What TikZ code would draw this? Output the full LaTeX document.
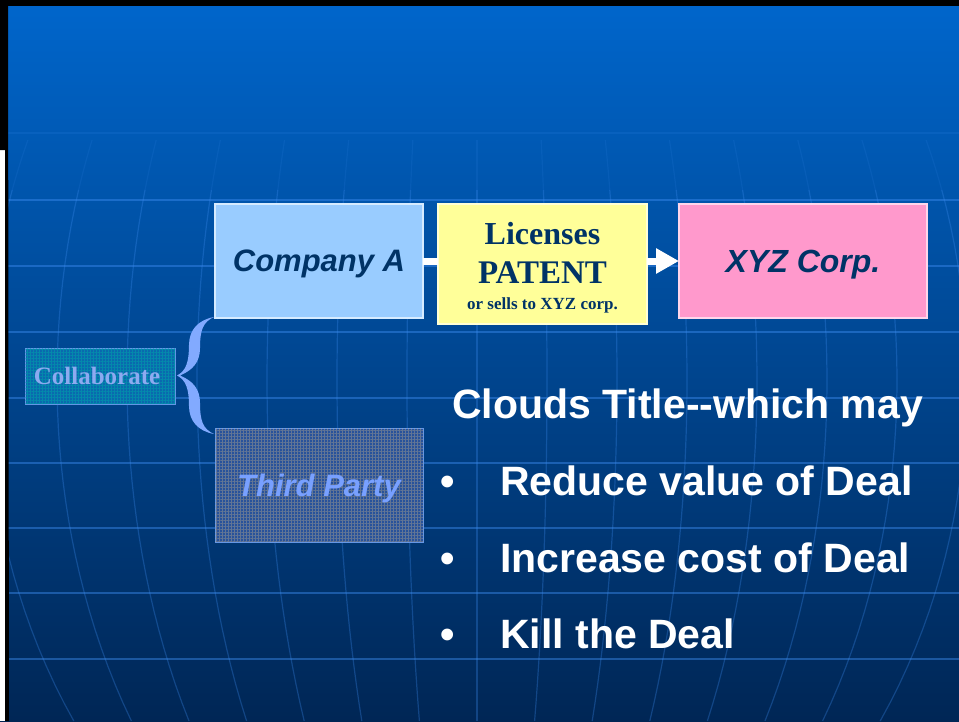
\documentclass[tikz,border=0pt]{standalone}
\usepackage{fontspec}
\setmainfont{Liberation Serif}
\newfontfamily\arial{Liberation Sans}
\usetikzlibrary{arrows.meta,patterns.meta}
\definecolor{navy}{RGB}{0,51,102}
\definecolor{bgtop}{RGB}{0,102,204}
\definecolor{bgmid}{RGB}{0,75,155}
\definecolor{bgbot}{RGB}{0,38,85}
\definecolor{gridc}{RGB}{60,140,240}
\definecolor{compblue}{RGB}{153,204,255}
\definecolor{licyellow}{RGB}{255,255,153}
\definecolor{xyzpink}{RGB}{255,153,204}
\definecolor{bracec}{RGB}{130,170,255}
\definecolor{collabtxt}{RGB}{140,170,240}
\definecolor{thirdtxt}{RGB}{120,160,255}
\definecolor{collabbase}{RGB}{10,105,175}
\definecolor{collabline}{RGB}{0,165,170}
\definecolor{thirdbase}{RGB}{40,82,155}
\definecolor{thirdline}{RGB}{185,170,140}
\definecolor{texborder}{RGB}{100,150,230}
\tikzset{
  blk/.style={rectangle, inner sep=0pt, outer sep=0pt, line width=1.2pt, text depth=0pt},
  sansbi/.style={font=\arial\bfseries\itshape\fontsize{#1}{#1}\selectfont},
  seriftxt/.style={anchor=base, inner sep=0pt, text=navy, font=\bfseries\fontsize{#1}{#1}\selectfont},
  bigtxt/.style={anchor=base west, inner sep=0pt, text=white, font=\arial\bfseries\fontsize{41}{41}\selectfont},
  hline/.style={gridc, line width=1.5pt, opacity=0.45},
  merid/.style={gridc, line width=1.2pt, opacity=0.3},
  link/.style={white, line width=7pt},
}
\begin{document}
\begin{tikzpicture}[x=1pt,y=-1pt]
\useasboundingbox (0,0) rectangle (959,721);
% background
\shade[top color=bgtop, middle color=bgmid, bottom color=bgbot] (0,0) rectangle (959,721);
% globe grid
\draw[hline, opacity=0.15] (0,133) -- (959,133);
\foreach \yy in {200,266,332,398,463,528,593,659}
  \draw[hline] (0,\yy) -- (959,\yy);
\foreach \k in {-7,...,7} {
  \draw[merid, opacity=0.12] plot[domain=140:190, samples=6, variable=\t] ({477+70*\k*sqrt(1-((\t-380)/600)^2)}, \t);
  \draw[merid] plot[domain=190:721, samples=30, variable=\t] ({477+70*\k*sqrt(1-((\t-380)/600)^2)}, \t);
}
% slide edge
\fill[white] (0,150) rectangle (5,721);
\fill[black] (0,0) rectangle (959,6);
\fill[black] (0,0) -- (8,0) -- (9,721) -- (5,721) -- (5,150) -- (0,150) -- cycle;

% boxes
\node[blk, fill=compblue, draw=compblue!40!white, minimum width=208pt, minimum height=114pt,
      sansbi=31, text=navy] (compA) at (319,261) {Company A};
\node[blk, fill=licyellow, draw=licyellow!40!white, minimum width=209pt, minimum height=120pt] (lic) at (542.5,264) {};
\node[seriftxt=32] (licA) at ([yshift=-40pt]lic.north) {Licenses};
\node[seriftxt=33] (licB) at ([yshift=-79pt]lic.north) {PATENT};
\node[seriftxt=17] (licC) at ([yshift=-105pt]lic.north) {or sells to XYZ corp.};
\node[blk, fill=xyzpink, draw=xyzpink!40!white, minimum width=248pt, minimum height=114pt,
      sansbi=32, text=navy] (xyz) at (803,261) {XYZ Corp.};

\node[blk, fill=collabbase, draw=texborder, line width=1pt, minimum width=150pt, minimum height=56pt,
      postaction={pattern={Hatch[angle=0, distance=3pt, line width=0.5pt]}, pattern color=collabline, opacity=0.55},
      text=collabtxt, font=\bfseries\fontsize{25}{25}\selectfont] (collab) at (100,376) {Collaborate\hspace*{6pt}};
\node[blk, fill=thirdbase, draw=texborder, line width=1pt, minimum width=208pt, minimum height=114pt,
      postaction={pattern={Hatch[angle=0, distance=3pt, line width=0.5pt]}, pattern color=thirdline, opacity=0.4},
      sansbi=31, text=thirdtxt] (third) at (319,485) {Third Party};

% connectors
\draw[link] (compA.east) -- (compA.east -| lic.west);
\draw[link, -{Triangle[length=23pt 0, width=24pt 0]}] (xyz.west -| lic.east) -- (xyz.west);

% brace
\fill[bracec]
  (214,317) .. controls (198,320) and (189,330) .. (189,345)
  .. controls (189,362) and (186,371) .. (177,375.5)
  .. controls (186,380) and (189,389) .. (189,406)
  .. controls (189,421) and (198,431) .. (214,434)
  .. controls (203,429) and (200,421) .. (200,403)
  .. controls (200,389) and (193,381) .. (180,375.5)
  .. controls (193,370) and (200,362) .. (200,348)
  .. controls (200,330) and (203,322) .. (214,317) -- cycle;

% title and bullets
\node[bigtxt] (title) at (452,418) {Clouds Title--which may};
\node[bigtxt] (b1) at (440,495) {•};
\node[bigtxt] (t1) at (500,495) {Reduce value of Deal};
\node[bigtxt] (b2) at (440,572) {•};
\node[bigtxt] (t2) at (500,572) {Increase cost of Deal};
\node[bigtxt] (b3) at (440,648) {•};
\node[bigtxt] (t3) at (500,648) {Kill the Deal};
\end{tikzpicture}
\end{document}
